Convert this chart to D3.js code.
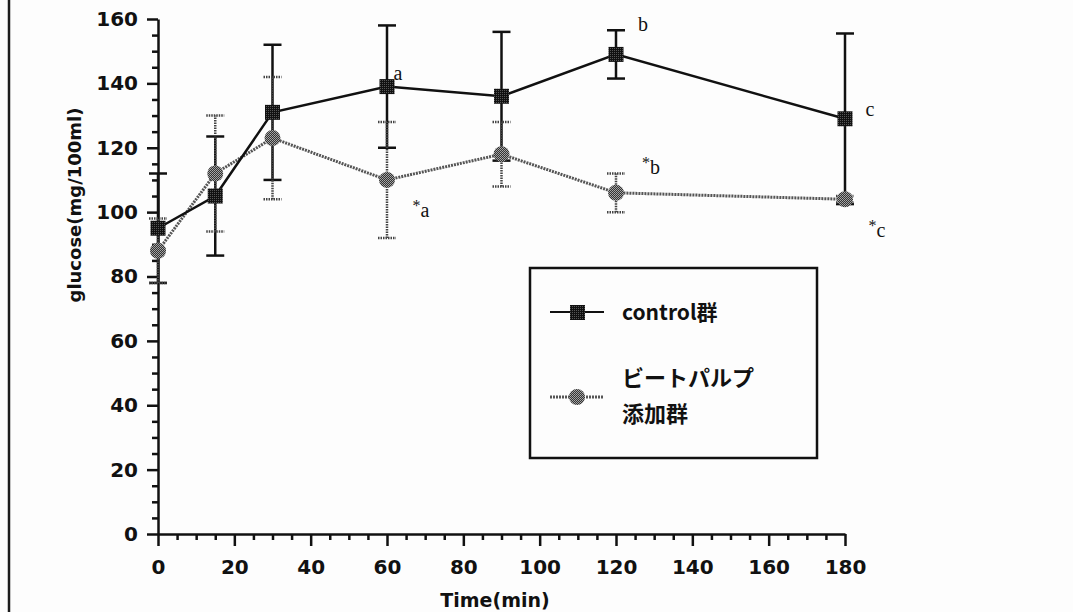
<!DOCTYPE html>
<html><head><meta charset="utf-8">
<script src="https://cdn.jsdelivr.net/npm/d3@7"></script>
<style>body{margin:0;background:#fff;overflow:hidden}</style>
</head><body>
<svg id="chart" width="1073" height="612"></svg>
<script>
// ---- data ----
const times = [0, 15, 30, 60, 90, 120, 180];
const controlMean = [95, 105, 131, 139, 136, 149, 129];
const controlSD   = [17, 18.5, 21, 19, 20, 7.5, 26.5];
const beetMean    = [88, 112, 123, 110, 118, 106, 104];
const beetSD      = [10, 18, 19, 18, 10, 6, 1];
const seriesNames = ["control群", "ビートパルプ", "添加群"];
const xTicks = [0, 20, 40, 60, 80, 100, 120, 140, 160, 180];
const yTicks = [0, 20, 40, 60, 80, 100, 120, 140, 160];
const annotText = ["a", "*a", "b", "*b", "c", "*c"];
const annotSeries = ["control", "beet", "control", "beet", "control", "beet"];
const annotTime = [60, 60, 120, 120, 180, 180];

// ---- layout ----
const svg = d3.select("#chart");
const x = d3.scaleLinear().domain([0, 180]).range([158, 845]);
const y = d3.scaleLinear().domain([0, 160]).range([534, 19]);
const sansB = "'DejaVu Sans', 'Noto Sans CJK JP', sans-serif";
const jp = "'Noto Sans CJK JP', 'DejaVu Sans', sans-serif";
const serif = "'Liberation Serif', 'DejaVu Serif', serif";

svg.append("rect").attr("width", 1073).attr("height", 612).attr("fill", "#fdfdfd");
// left border line
svg.append("line").attr("x1", 9).attr("x2", 9).attr("y1", 0).attr("y2", 612)
  .attr("stroke", "#1c1c1c").attr("stroke-width", 2.5);

// patterns for textured markers
const defs = svg.append("defs");
const pDark = defs.append("pattern").attr("id", "pDark").attr("width", 2).attr("height", 2)
  .attr("patternUnits", "userSpaceOnUse");
pDark.append("rect").attr("width", 2).attr("height", 2).attr("fill", "#111");
pDark.append("rect").attr("width", 1).attr("height", 1).attr("fill", "#555");
const pGray = defs.append("pattern").attr("id", "pGray").attr("width", 2).attr("height", 2)
  .attr("patternUnits", "userSpaceOnUse");
pGray.append("rect").attr("width", 2).attr("height", 2).attr("fill", "#333");
pGray.append("rect").attr("width", 1).attr("height", 1).attr("fill", "#aaa");
pGray.append("rect").attr("x", 1).attr("y", 1).attr("width", 1).attr("height", 1).attr("fill", "#999");

// ---- axes ----
const minorX = d3.range(0, 181, 5).filter(v => v % 20 !== 0);
const minorY = d3.range(0, 161, 5).filter(v => v % 20 !== 0);

svg.append("g").attr("transform", `translate(0,${y(0)})`)
  .call(d3.axisBottom(x).tickValues(xTicks).tickSize(12).tickSizeOuter(0).tickPadding(14).tickFormat(d3.format("d")));
svg.append("g").attr("transform", `translate(0,${y(0)})`)
  .call(d3.axisBottom(x).tickValues(minorX).tickSize(6).tickSizeOuter(0).tickFormat(""))
  .select(".domain").remove();
svg.append("g").attr("transform", `translate(${x(0)},0)`)
  .call(d3.axisLeft(y).tickValues(yTicks).tickSize(11).tickSizeOuter(0).tickPadding(9).tickFormat(d3.format("d")));
svg.append("g").attr("transform", `translate(${x(0)},0)`)
  .call(d3.axisLeft(y).tickValues(minorY).tickSize(6).tickSizeOuter(0).tickFormat(""))
  .select(".domain").remove();

svg.selectAll(".domain").attr("stroke", "#111").attr("stroke-width", 2.5);
svg.selectAll(".tick line").attr("stroke", "#111").attr("stroke-width", 2.5);
svg.selectAll(".tick text").attr("font-family", sansB).attr("font-weight", "bold")
  .attr("font-size", 20).attr("fill", "#111");

// axis titles
svg.append("text").attr("x", 495).attr("y", 607).attr("text-anchor", "middle")
  .attr("font-family", sansB).attr("font-weight", "bold").attr("font-size", 19).attr("fill", "#111")
  .text("Time(min)");
svg.append("text").attr("transform", "translate(81,205) rotate(-90)").attr("text-anchor", "middle")
  .attr("font-family", sansB).attr("font-weight", "bold").attr("font-size", 18).attr("fill", "#111")
  .text("glucose(mg/100ml)");

// ---- series ----
const control = times.map((t, i) => ({t, m: controlMean[i], sd: controlSD[i]}));
const beet = times.map((t, i) => ({t, m: beetMean[i], sd: beetSD[i]}));
const line = d3.line().x(d => x(d.t)).y(d => y(d.m));

// beet line (textured gray)
svg.append("path").datum(beet).attr("d", line).attr("fill", "none")
  .attr("stroke", "#555").attr("stroke-width", 3).attr("stroke-dasharray", "2,1");
// control line
svg.append("path").datum(control).attr("d", line).attr("fill", "none")
  .attr("stroke", "#111").attr("stroke-width", 2.5);

function errorBars(data, color, dash, width) {
  const g = svg.append("g").attr("stroke", color).attr("stroke-width", width)
    .attr("stroke-dasharray", dash);
  g.selectAll(".v").data(data).join("line")
    .attr("x1", d => x(d.t)).attr("x2", d => x(d.t))
    .attr("y1", d => y(d.m - d.sd)).attr("y2", d => y(d.m + d.sd));
  g.selectAll(".ct").data(data).join("line")
    .attr("x1", d => x(d.t) - 9).attr("x2", d => x(d.t) + 9)
    .attr("y1", d => y(d.m + d.sd)).attr("y2", d => y(d.m + d.sd));
  g.selectAll(".cb").data(data).join("line")
    .attr("x1", d => x(d.t) - 9).attr("x2", d => x(d.t) + 9)
    .attr("y1", d => y(d.m - d.sd)).attr("y2", d => y(d.m - d.sd));
}
errorBars(control, "#111", null, 2.5);
errorBars(beet, "#444", "1.5,1", 2.5);

// markers
svg.append("g").selectAll("circle").data(beet).join("circle")
  .attr("cx", d => x(d.t)).attr("cy", d => y(d.m)).attr("r", 8)
  .attr("fill", "url(#pGray)");
svg.append("g").selectAll("rect").data(control).join("rect")
  .attr("x", d => x(d.t) - 7.5).attr("y", d => y(d.m) - 7.5)
  .attr("width", 15).attr("height", 15).attr("fill", "url(#pDark)");

// annotations
const annOffsets = [[11, -14], [34, 33], [27, -30], [35, -23], [25, -10], [32, 33]];
annotText.forEach((txt, i) => {
  const src = annotSeries[i] === "control" ? control : beet;
  const d = src.find(p => p.t === annotTime[i]);
  const t = svg.append("text")
    .attr("x", x(d.t) + annOffsets[i][0]).attr("y", y(d.m) + annOffsets[i][1])
    .attr("dy", "0.35em").attr("text-anchor", "middle")
    .attr("font-family", serif).attr("font-size", 20).attr("fill", "#111");
  if (txt.startsWith("*")) {
    t.append("tspan").attr("font-size", 16).attr("dy", "-0.1em").text("*");
    t.append("tspan").attr("dy", "0.3em").text(txt.slice(1));
  } else t.text(txt);
});

// ---- legend ----
const lg = svg.append("g");
lg.append("rect").attr("x", 530).attr("y", 268).attr("width", 287).attr("height", 190)
  .attr("fill", "none").attr("stroke", "#111").attr("stroke-width", 2.5);
lg.append("line").attr("x1", 550).attr("x2", 604).attr("y1", 312).attr("y2", 312)
  .attr("stroke", "#111").attr("stroke-width", 2);
lg.append("rect").attr("x", 570).attr("y", 305).attr("width", 15).attr("height", 15).attr("fill", "url(#pDark)");
lg.append("line").attr("x1", 550).attr("x2", 604).attr("y1", 397).attr("y2", 397)
  .attr("stroke", "#555").attr("stroke-width", 3).attr("stroke-dasharray", "2,1");
lg.append("circle").attr("cx", 577).attr("cy", 397).attr("r", 8).attr("fill", "url(#pGray)");
lg.append("text").attr("x", 622).attr("y", 312).attr("dy", "0.36em")
  .attr("font-family", jp).attr("font-weight", "bold").attr("font-size", 21).attr("fill", "#111")
  .text(seriesNames[0]);
lg.append("text").attr("x", 622).attr("y", 378).attr("dy", "0.36em")
  .attr("font-family", jp).attr("font-weight", "bold").attr("font-size", 22).attr("fill", "#111")
  .text(seriesNames[1]);
lg.append("text").attr("x", 622).attr("y", 414).attr("dy", "0.36em")
  .attr("font-family", jp).attr("font-weight", "bold").attr("font-size", 22).attr("fill", "#111")
  .text(seriesNames[2]);
</script>
</body></html>
